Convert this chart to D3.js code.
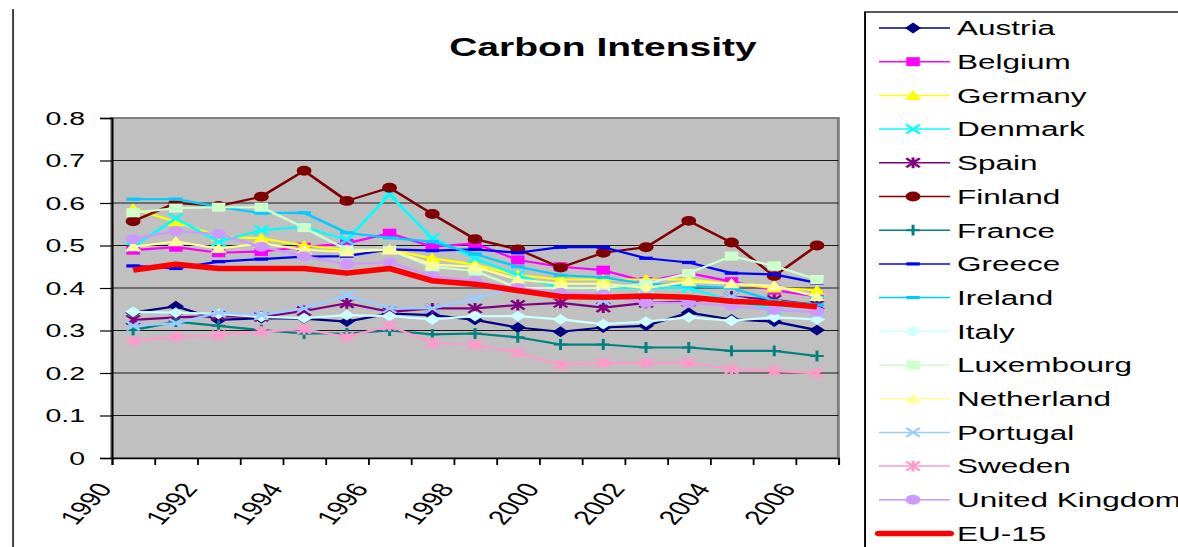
<!DOCTYPE html>
<html>
<head>
<meta charset="utf-8">
<script src="https://cdn.jsdelivr.net/npm/d3@7"></script>
<style>
  html, body { margin: 0; padding: 0; background: #fff; }
  svg { display: block; font-family: "Liberation Sans", Arial, sans-serif; }
</style>
</head>
<body>
<div id="chart"></div>
<script>
// data
var years = d3.range(1990, 2007);
var yTicks = [0, 0.1, 0.2, 0.3, 0.4, 0.5, 0.6, 0.7, 0.8];
var yearLabels = [1990, 1992, 1994, 1996, 1998, 2000, 2002, 2004, 2006];

var austria     = [0.342, 0.357, 0.325, 0.329, 0.328, 0.321, 0.340, 0.336, 0.325, 0.307, 0.297, 0.307, 0.311, 0.342, 0.326, 0.321, 0.301];
var belgium     = [0.489, 0.496, 0.483, 0.486, 0.496, 0.505, 0.529, 0.497, 0.505, 0.466, 0.450, 0.442, 0.415, 0.435, 0.415, 0.395, 0.380];
var germany     = [0.587, 0.556, 0.521, 0.517, 0.500, 0.490, 0.490, 0.470, 0.455, 0.430, 0.420, 0.420, 0.420, 0.420, 0.410, 0.400, 0.395];
var denmark     = [0.497, 0.564, 0.509, 0.536, 0.544, 0.513, 0.620, 0.517, 0.470, 0.430, 0.400, 0.400, 0.400, 0.400, 0.370, 0.350, 0.370];
var spain       = [0.325, 0.331, 0.334, 0.332, 0.346, 0.364, 0.344, 0.352, 0.352, 0.360, 0.365, 0.354, 0.365, 0.368, 0.380, 0.372, 0.360];
var finland     = [0.557, 0.600, 0.593, 0.615, 0.676, 0.605, 0.636, 0.574, 0.515, 0.491, 0.448, 0.483, 0.496, 0.558, 0.507, 0.428, 0.500];
var france      = [0.301, 0.321, 0.311, 0.301, 0.293, 0.293, 0.300, 0.291, 0.293, 0.284, 0.267, 0.267, 0.260, 0.260, 0.252, 0.252, 0.240];
var greece      = [0.452, 0.446, 0.462, 0.468, 0.474, 0.475, 0.491, 0.488, 0.491, 0.483, 0.496, 0.496, 0.470, 0.460, 0.435, 0.432, 0.412];
var ireland     = [0.609, 0.609, 0.591, 0.576, 0.577, 0.530, 0.518, 0.509, 0.480, 0.450, 0.430, 0.425, 0.410, 0.405, 0.400, 0.370, 0.360];
var italy       = [0.344, 0.342, 0.339, 0.332, 0.329, 0.336, 0.334, 0.326, 0.334, 0.334, 0.326, 0.315, 0.321, 0.331, 0.323, 0.331, 0.326];
var luxembourg  = [0.577, 0.588, 0.590, 0.590, 0.542, 0.490, 0.490, 0.450, 0.440, 0.400, 0.400, 0.400, 0.410, 0.435, 0.475, 0.452, 0.420];
var netherland  = [0.497, 0.509, 0.493, 0.505, 0.490, 0.485, 0.490, 0.455, 0.450, 0.420, 0.410, 0.410, 0.400, 0.415, 0.410, 0.405, 0.380];
var portugal    = [0.311, 0.317, 0.342, 0.336, 0.352, 0.383, 0.352, 0.352, 0.376, 0.400, 0.385, 0.370, 0.385, 0.370, 0.380, 0.360, 0.340];
var sweden      = [0.275, 0.285, 0.289, 0.297, 0.303, 0.285, 0.311, 0.271, 0.267, 0.248, 0.219, 0.224, 0.224, 0.224, 0.209, 0.205, 0.199];
var uk          = [0.515, 0.534, 0.527, 0.497, 0.475, 0.456, 0.460, 0.428, 0.416, 0.400, 0.389, 0.385, 0.365, 0.365, 0.358, 0.348, 0.344];
var eu15        = [0.442, 0.456, 0.446, 0.446, 0.446, 0.435, 0.446, 0.417, 0.409, 0.394, 0.380, 0.378, 0.381, 0.378, 0.369, 0.364, 0.356];

var series = [
    {name: "Austria", values: austria, color: "#000080", marker: "diamond"},
    {name: "Belgium", values: belgium, color: "#FF00FF", marker: "square"},
    {name: "Germany", values: germany, color: "#FFFF00", marker: "triangle"},
    {name: "Denmark", values: denmark, color: "#00FFFF", marker: "x"},
    {name: "Spain", values: spain, color: "#800080", marker: "star"},
    {name: "Finland", values: finland, color: "#800000", marker: "circle"},
    {name: "France", values: france, color: "#008080", marker: "plus"},
    {name: "Greece", values: greece, color: "#0000FF", marker: "dash"},
    {name: "Ireland", values: ireland, color: "#00CCFF", marker: "dash"},
    {name: "Italy", values: italy, color: "#CCFFFF", marker: "diamond"},
    {name: "Luxembourg", values: luxembourg, color: "#CCFFCC", marker: "square"},
    {name: "Netherland", values: netherland, color: "#FFFF99", marker: "triangle"},
    {name: "Portugal", values: portugal, color: "#99CCFF", marker: "x"},
    {name: "Sweden", values: sweden, color: "#FF99CC", marker: "star"},
    {name: "United Kingdom", values: uk, color: "#CC99FF", marker: "circle"},
    {name: "EU-15", values: eu15, color: "#FF0000", marker: "none"}
];

// the picture is stretched 1.5x sideways, so draw in a narrower box and stretch it
var width = 1178, height = 547, stretch = 1.5;
var vbW = width / stretch;

var svg = d3.select("#chart").append("svg")
    .attr("width", width)
    .attr("height", height)
    .attr("viewBox", "0 0 " + vbW + " " + height)
    .attr("preserveAspectRatio", "none");

var plot = {left: 74.5, right: 558.9, top: 118, bottom: 458};

// outer chart border (only left/top visible)
svg.append("line").attr("x1", 8.7).attr("x2", 8.7).attr("y1", 9).attr("y2", height)
    .attr("stroke", "#404040").attr("stroke-width", 1.3);

var xEdge = d3.scaleLinear().domain([1990, 2007]).range([plot.left, plot.right]);
var y = d3.scaleLinear().domain([0, 0.8]).range([plot.bottom, plot.top]);

svg.append("rect")
    .attr("x", plot.left).attr("y", plot.top)
    .attr("width", plot.right - plot.left).attr("height", plot.bottom - plot.top)
    .attr("fill", "#C0C0C0")
    .attr("stroke", "#808080").attr("stroke-width", 2);

// gridlines
svg.append("g").selectAll("line")
    .data(yTicks.slice(1, -1))
    .enter().append("line")
    .attr("x1", plot.left).attr("x2", plot.right)
    .attr("y1", function (d) { return y(d); })
    .attr("y2", function (d) { return y(d); })
    .attr("stroke", "#1a1a1a").attr("stroke-width", 1.2);

// y axis
var yAxis = svg.append("g")
    .attr("transform", "translate(" + plot.left + ",0)")
    .call(d3.axisLeft(y).tickValues(yTicks).tickSize(7.8).tickPadding(10)
        .tickFormat(function (d) { return d === 0 ? "0" : d.toFixed(1); }));
yAxis.select(".domain").attr("stroke", "#000").attr("stroke-width", 1.3);
yAxis.selectAll(".tick line").attr("stroke", "#000").attr("stroke-width", 1.2);
yAxis.selectAll("text").attr("font-size", 19).attr("fill", "#000")
    .attr("font-family", "Liberation Sans, Arial, sans-serif");

// x axis (category ticks at band edges)
var xAxis = svg.append("g")
    .attr("transform", "translate(0," + plot.bottom + ")")
    .call(d3.axisBottom(xEdge).tickValues(d3.range(1990, 2008)).tickSize(7).tickFormat(""));
xAxis.select(".domain").attr("stroke", "#000").attr("stroke-width", 1.3);
xAxis.selectAll(".tick line").attr("stroke", "#000").attr("stroke-width", 1.2);

svg.append("g").selectAll("text")
    .data(yearLabels)
    .enter().append("text")
    .attr("transform", function (d) {
        return "translate(" + (xEdge(d) - 5) + "," + (plot.bottom + 27) + ") rotate(-56.3)";
    })
    .attr("text-anchor", "end")
    .attr("dy", "0.35em")
    .attr("font-size", 20)
    .text(function (d) { return d; });

// markers
function drawMarker(sel, type, color, size) {
    var s = size;
    if (type === "circle") {
        sel.append("circle").attr("r", s * 0.55).attr("fill", color);
    } else if (type === "square") {
        sel.append("rect").attr("x", -s / 2).attr("y", -s / 2).attr("width", s).attr("height", s).attr("fill", color);
    } else if (type === "diamond") {
        sel.append("path").attr("d", "M0," + (-s * 0.6) + "L" + (s * 0.6) + ",0L0," + (s * 0.6) + "L" + (-s * 0.6) + ",0Z").attr("fill", color);
    } else if (type === "triangle") {
        sel.append("path").attr("d", "M0," + (-s * 0.6) + "L" + (s * 0.6) + "," + (s * 0.5) + "L" + (-s * 0.6) + "," + (s * 0.5) + "Z").attr("fill", color);
    } else if (type === "x") {
        sel.append("path").attr("d", "M" + (-s / 2) + "," + (-s / 2) + "L" + (s / 2) + "," + (s / 2) + "M" + (s / 2) + "," + (-s / 2) + "L" + (-s / 2) + "," + (s / 2))
            .attr("stroke", color).attr("stroke-width", 2).attr("fill", "none");
    } else if (type === "star") {
        sel.append("path").attr("d", "M" + (-s / 2) + "," + (-s / 2) + "L" + (s / 2) + "," + (s / 2) + "M" + (s / 2) + "," + (-s / 2) + "L" + (-s / 2) + "," + (s / 2) + "M0," + (-s * 0.6) + "L0," + (s * 0.6))
            .attr("stroke", color).attr("stroke-width", 2).attr("fill", "none");
    } else if (type === "plus") {
        sel.append("path").attr("d", "M0," + (-s * 0.6) + "L0," + (s * 0.6) + "M" + (-s / 2) + ",0L" + (s / 2) + ",0")
            .attr("stroke", color).attr("stroke-width", 2).attr("fill", "none");
    } else if (type === "dash") {
        sel.append("rect").attr("x", -s / 2).attr("y", -1.6).attr("width", s).attr("height", 3.2).attr("fill", color);
    }
}

var line = d3.line()
    .x(function (d, i) { return xEdge(years[i] + 0.5); })
    .y(function (d) { return y(d); });

var plotG = svg.append("g");
series.forEach(function (s) {
    var g = plotG.append("g");
    g.append("path")
        .datum(s.values)
        .attr("d", line)
        .attr("fill", "none")
        .attr("stroke", s.color)
        .attr("stroke-width", s.name === "EU-15" ? 5.5 : 2.2)
        .attr("stroke-linejoin", "round");
    if (s.marker !== "none") {
        g.selectAll(".m")
            .data(s.values)
            .enter().append("g")
            .attr("class", "m")
            .attr("transform", function (d, i) { return "translate(" + xEdge(years[i] + 0.5) + "," + y(d) + ")"; })
            .each(function () { drawMarker(d3.select(this), s.marker, s.color, 9); });
    }
});

// title
svg.append("text")
    .attr("x", 402).attr("y", 56)
    .attr("text-anchor", "middle")
    .attr("font-size", 26)
    .attr("font-weight", "bold")
    .text("Carbon Intensity");

// legend
var legendX = 576.7;
svg.append("rect")
    .attr("x", legendX).attr("y", 12)
    .attr("width", 300).attr("height", 600)
    .attr("fill", "#fff").attr("stroke", "#000").attr("stroke-width", 1.3);

var legend = svg.append("g").selectAll("g")
    .data(series)
    .enter().append("g")
    .attr("transform", function (d, i) { return "translate(0," + (28 + i * 33.7) + ")"; });

legend.append("line")
    .attr("x1", 586).attr("x2", 633.3)
    .attr("stroke", function (d) { return d.color; })
    .attr("stroke-width", function (d) { return d.name === "EU-15" ? 5.5 : 1.5; })
    .attr("stroke-linecap", function (d) { return d.name === "EU-15" ? "round" : "butt"; });

legend.each(function (d) {
    if (d.marker !== "none") {
        var m = d3.select(this).append("g").attr("transform", "translate(608.7,0)");
        drawMarker(m, d.marker, d.color, 9);
    }
});

legend.append("text")
    .attr("x", 638)
    .attr("dy", "0.35em")
    .attr("font-size", 21)
    .text(function (d) { return d.name; });
</script>
</body>
</html>
